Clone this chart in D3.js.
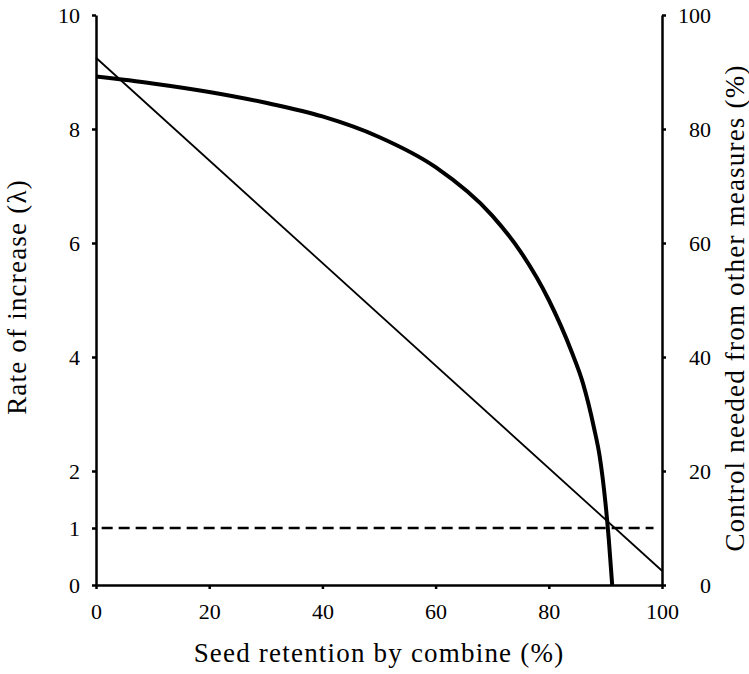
<!DOCTYPE html>
<html><head><meta charset="utf-8"><script src="https://cdn.jsdelivr.net/npm/d3@7"></script></head>
<body style="margin:0">
<svg id="chart" width="749" height="674" style="display:block;background:#fff"></svg>
<script>
// Seed retention by the combine (%)
const retention = [0, 10, 20, 30, 40, 50, 60, 70, 75, 80, 84, 86, 88, 89, 90, 90.6, 91.2];
// Population rate of increase (lambda) at each retention level
const lambdaValues = [8.92, 8.80, 8.65, 8.46, 8.22, 7.86, 7.33, 6.48, 5.85, 5.0, 4.1, 3.55, 2.75, 2.25, 1.45, 0.8, 0];

// Control needed from other measures (%), straight line against the right axis
const controlRetention = [0, 100];
const controlNeeded = [92.5, 2.5];

// Replacement level, lambda = 1
const replacementLambda = 1;

const xTicks = [0, 20, 40, 60, 80, 100];
const leftTicks = [0, 1, 2, 4, 6, 8, 10];
const rightTicks = [0, 20, 40, 60, 80, 100];

const FONT = '"Liberation Serif"';

const svg = d3.select("#chart");

const x = d3.scaleLinear().domain([0, 100]).range([96, 662]);
const yL = d3.scaleLinear().domain([0, 10]).range([585, 15]);
const yR = d3.scaleLinear().domain([0, 100]).range([585, 15]);

function drawAxis(g, axis) {
  g.call(axis);
  g.attr("font-family", null).attr("font-size", null);
  g.select(".domain").attr("stroke", "#000").attr("stroke-width", 2.5);
  g.selectAll(".tick line").attr("stroke", "#000").attr("stroke-width", 2.5);
  g.selectAll(".tick text")
    .style("font-family", FONT)
    .style("font-size", "22px")
    .attr("fill", "#000");
}

// Bottom axis
const bottomAxis = svg.append("g").attr("transform", `translate(0,${yL(0)})`);
drawAxis(bottomAxis, d3.axisBottom(x).tickValues(xTicks).tickSizeInner(4).tickSizeOuter(0).tickPadding(14));

// Left axis
const leftAxis = svg.append("g").attr("transform", `translate(${x(0)},0)`);
drawAxis(leftAxis, d3.axisLeft(yL).tickValues(leftTicks).tickFormat(d3.format("d")).tickSizeInner(4).tickSizeOuter(0).tickPadding(12));

// Right axis
const rightAxis = svg.append("g").attr("transform", `translate(${x(100)},0)`);
drawAxis(rightAxis, d3.axisRight(yR).tickValues(rightTicks).tickSizeInner(4).tickSizeOuter(0).tickPadding(12));
rightAxis.selectAll(".tick text").attr("text-anchor", "end").attr("x", 49);

// Replacement level (dashed)
svg.append("line")
  .attr("x1", x(1)).attr("x2", x(98.5))
  .attr("y1", yL(replacementLambda)).attr("y2", yL(replacementLambda))
  .attr("stroke", "#000").attr("stroke-width", 2.5)
  .attr("stroke-dasharray", "11,6");

// Control needed line
const controlLine = d3.line()
  .x((d, i) => x(controlRetention[i]))
  .y(d => yR(d));
svg.append("path")
  .attr("d", controlLine(controlNeeded))
  .attr("fill", "none").attr("stroke", "#000").attr("stroke-width", 1.8);

// Rate of increase curve
const lambdaLine = d3.line()
  .x((d, i) => x(retention[i]))
  .y(d => yL(d))
  .curve(d3.curveMonotoneX);
svg.append("path")
  .attr("d", lambdaLine(lambdaValues))
  .attr("fill", "none").attr("stroke", "#000").attr("stroke-width", 4)
  .attr("stroke-linejoin", "round");

// Axis titles
function title(t) {
  return t.attr("text-anchor", "middle")
    .style("font-family", FONT)
    .style("font-size", "27px")
    .style("letter-spacing", "1.2px");
}

svg.append("text")
  .attr("x", (x(0) + x(100)) / 2).attr("y", 662)
  .call(title)
  .text("Seed retention by combine (%)");

svg.append("text")
  .attr("transform", "translate(26,297) rotate(-90)")
  .call(title)
  .text("Rate of increase (λ)");

svg.append("text")
  .attr("transform", "translate(744,308) rotate(-90)")
  .call(title)
  .text("Control needed from other measures (%)");
</script>
</body>
</html>
